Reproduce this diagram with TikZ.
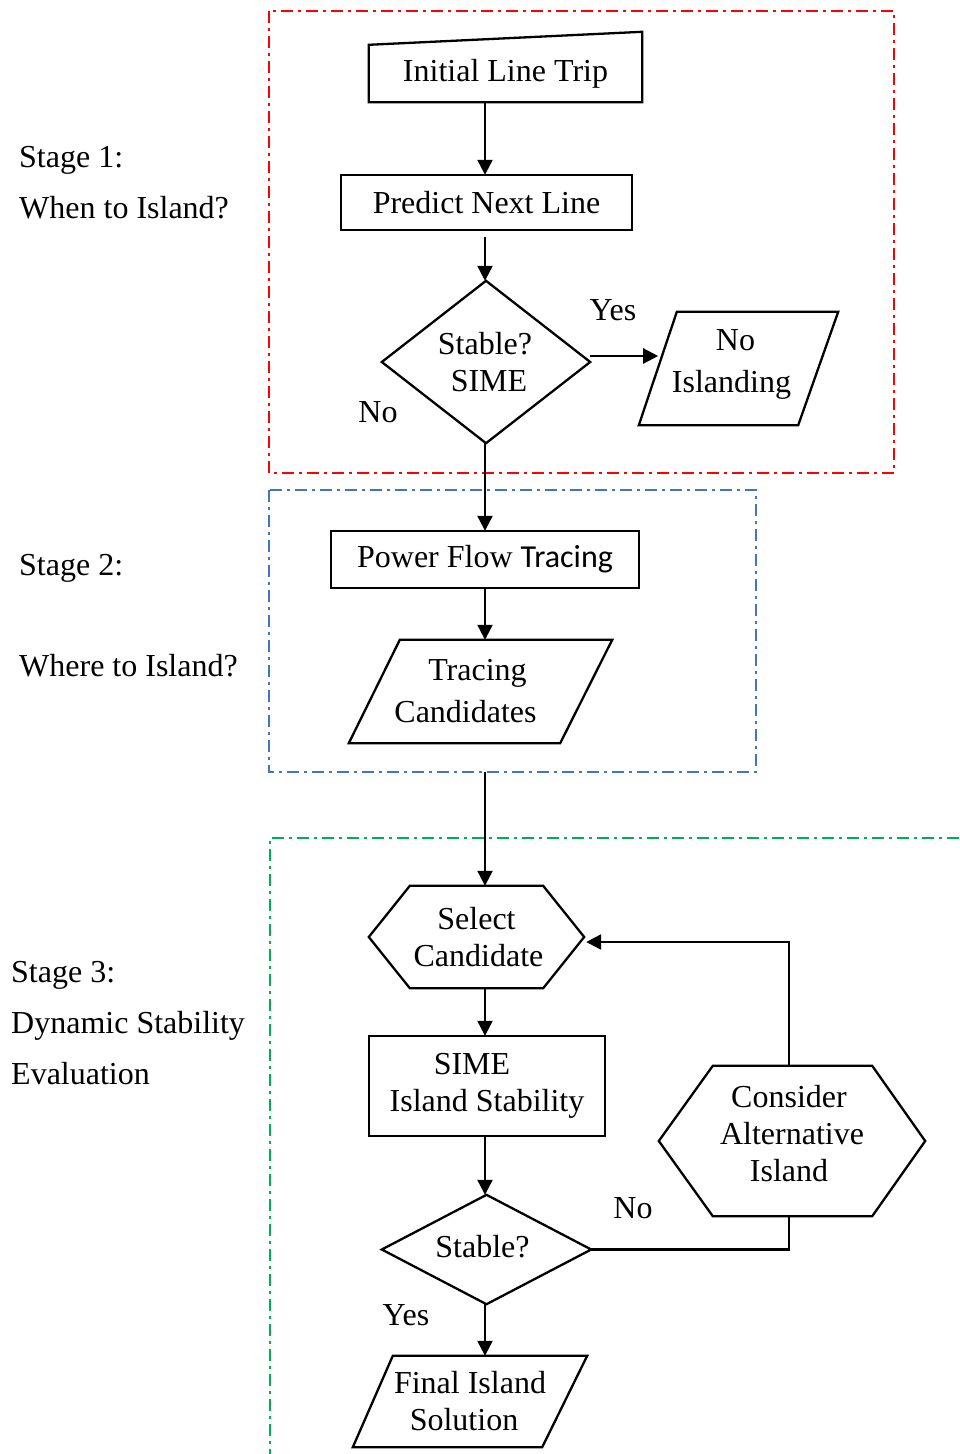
\documentclass[tikz,border=0pt]{standalone}
\usepackage{fontspec}
\setmainfont{Liberation Serif}
\newfontfamily\carl{Carlito}
\usetikzlibrary{arrows.meta,calc}
\definecolor{frred}{RGB}{255,0,0}
\definecolor{frblue}{RGB}{68,114,196}
\definecolor{frgreen}{RGB}{0,176,80}
\tikzset{
  base/.style={font=\fontsize{32}{37}\selectfont, inner sep=0pt, align=center},
  shp/.style={base, draw=none},
  outline/.style={line width=2.3pt, line join=miter},
  arr/.style={line width=2.3pt, -{Triangle[length=15pt,width=15pt]}},
  conn/.style={line width=2.3pt},
  lbl/.style={base, anchor=base},
  stage/.style={base, anchor=base west, align=left},
  frame/.style={line width=2pt, dash pattern=on 12pt off 5pt on 3pt off 5pt, draw=none, inner sep=0pt},
}
\begin{document}
\begin{tikzpicture}[x=1pt,y=-1pt]
\useasboundingbox (0,0) rectangle (959,1454);
\fill[white] (0,0) rectangle (959,1454);

% frames
\node[frame, minimum width=623, minimum height=460] (s1) at (581.5,242) {};
\draw[frame, draw=frred] (s1.north west) rectangle (s1.south east);
\node[frame, minimum width=485, minimum height=280] (s2) at (512.5,631) {};
\draw[frame, draw=frblue] (s2.north west) rectangle (s2.south east);
\coordinate (s3corner) at (270,838);
\draw[frame, draw=frgreen] (959,838) -- (s3corner) -- (270,1454);

\coordinate (axis) at (485,0);

% stage labels
\node[stage] (st1a) at (19,167) {Stage 1:};
\node[stage] (st1b) at (19,218) {When to Island?};
\node[stage] (st2a) at (19,575) {Stage 2:};
\node[stage] (st2b) at (19,676) {Where to Island?};
\node[stage] (st3a) at (11,982) {Stage 3:};
\node[stage] (st3b) at (11,1033) {Dynamic Stability};
\node[stage] (st3c) at (11,1084) {Evaluation};

% Initial Line Trip (manual input)
\node[shp, minimum width=273, minimum height=57] (ilt) at (505.5,73.5) {Initial Line Trip};
\draw[outline] (ilt.south west) -- (ilt.south east) -- ($(ilt.north east)+(0,-13)$) -- (ilt.north west) -- cycle;

% Predict Next Line
\node[shp, minimum width=291, minimum height=55] (pnl) at (486.5,202.5) {Predict Next Line};
\draw[outline] (pnl.south west) rectangle (pnl.north east);

% Diamond 1
\node[shp, minimum width=208, minimum height=162] (d1) at (486,362) {Stable?\hspace*{2pt}\\SIME\hspace*{-6pt}};
\draw[outline] (d1.west) -- (d1.north) -- (d1.east) -- (d1.south) -- cycle;

% No Islanding
\node[shp, minimum width=199, minimum height=113] (ni) at (738.5,368.5) {No\hspace*{6pt}\\[5pt]Islanding\hspace*{14pt}\rule[-15pt]{0pt}{15pt}};
\draw[outline] (ni.south west) -- ($(ni.north west)+(38,0)$) -- (ni.north east) -- ($(ni.south east)+(-40,0)$) -- cycle;

% Power Flow Tracing
\node[shp, minimum width=308, minimum height=57] (pft) at (485,559.5) {Power Flow {\carl Tracing}};
\draw[outline] (pft.south west) rectangle (pft.north east);

% Tracing Candidates
\node[shp, minimum width=263, minimum height=103] (tc) at (480.5,691.5) {Tracing\hspace*{6pt}\\[5pt]Candidates\hspace*{30pt}};
\draw[outline] (tc.south west) -- ($(tc.north west)+(51,0)$) -- (tc.north east) -- ($(tc.south east)+(-52,0)$) -- cycle;

% Select Candidate
\node[shp, minimum width=215, minimum height=102] (sc) at (476.5,937) {Select\\Candidate\hspace*{-4pt}};
\draw[outline] (sc.west) -- ($(sc.north west)+(41,0)$) -- ($(sc.north east)+(-41,0)$) -- (sc.east) -- ($(sc.south east)+(-41,0)$) -- ($(sc.south west)+(41,0)$) -- cycle;

% SIME Island Stability
\node[shp, minimum width=236, minimum height=100] (sime) at (487,1086) {SIME\hspace*{30pt}\\Island Stability};
\draw[outline] (sime.south west) rectangle (sime.north east);

% Diamond 2
\node[shp, minimum width=209, minimum height=109] (d2) at (486.5,1249.5) {Stable?\hspace*{8pt}\rule[-6pt]{0pt}{6pt}};
\draw[outline] (d2.west) -- (d2.north) -- (d2.east) -- (d2.south) -- cycle;

% Final Island Solution
\node[shp, minimum width=234, minimum height=91] (fis) at (470,1401.5) {Final Island\\Solution\hspace*{12pt}};
\draw[outline] (fis.south west) -- ($(fis.north west)+(40,0)$) -- (fis.north east) -- ($(fis.south east)+(-45,0)$) -- cycle;

% Consider Alternative Island
\node[shp, minimum width=266, minimum height=150] (cai) at (792,1141) {Consider\hspace*{6pt}\\Alternative\hspace*{6pt}\\Island\hspace*{6pt}\rule[-16pt]{0pt}{16pt}};
\draw[outline] (cai.west) -- ($(cai.north west)+(54,0)$) -- ($(cai.north east)+(-53,0)$) -- (cai.east) -- ($(cai.south east)+(-53,0)$) -- ($(cai.south west)+(54,0)$) -- cycle;

% labels
\node[lbl] (yes1) at (613,320) {Yes};
\node[lbl] (no1) at (378,422) {No};
\node[lbl] (no2) at (633,1218) {No};
\node[lbl] (yes2) at (406,1325) {Yes};

% connectors
\draw[arr] (axis |- ilt.south) -- (axis |- pnl.north);
\draw[arr] ([yshift=-7pt]axis |- pnl.south) -- (axis |- d1.north);
\draw[arr] ([yshift=6pt]d1.east) -- ++(68,0);
\draw[arr] (axis |- d1.south) -- (axis |- pft.north);
\draw[arr] (axis |- pft.south) -- (axis |- tc.north);
\draw[arr] (axis |- s2.south) -- (axis |- sc.north);
\draw[arr] (axis |- sc.south) -- (axis |- sime.north);
\draw[arr] (axis |- sime.south) -- (axis |- d2.north);
\draw[arr] (axis |- d2.south) -- (axis |- fis.north);
\draw[conn] (d2.east) -| ([xshift=-3pt]cai.south);
\draw[arr] ([xshift=-3pt]cai.north) |- ([yshift=-5pt,xshift=2pt]sc.east);
\end{tikzpicture}
\end{document}
